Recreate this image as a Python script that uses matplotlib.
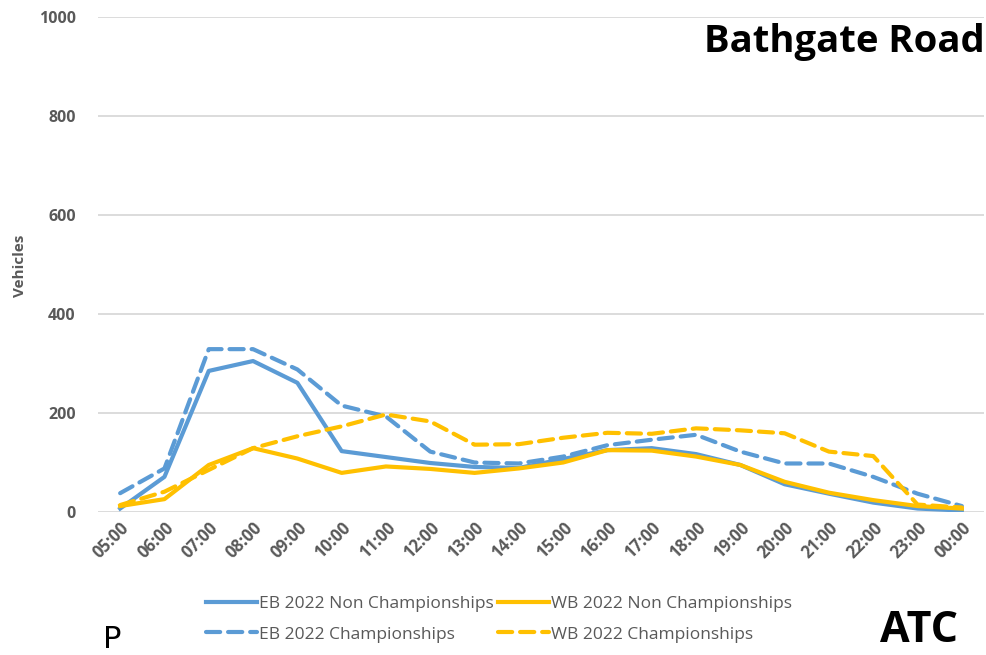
import matplotlib
matplotlib.use("Agg")
import matplotlib.pyplot as plt

hours = ["05:00", "06:00", "07:00", "08:00", "09:00", "10:00", "11:00", "12:00", "13:00", "14:00",
         "15:00", "16:00", "17:00", "18:00", "19:00", "20:00", "21:00", "22:00", "23:00", "00:00"]
eb_non = [7, 71, 285, 305, 261, 123, 111, 99, 91, 89, 107, 125, 129, 117, 95, 56, 37, 19, 7, 3]
wb_non = [12, 26, 95, 129, 108, 79, 92, 87, 79, 88, 100, 125, 124, 112, 95, 61, 39, 24, 12, 7]
eb_champ = [38, 88, 329, 329, 288, 215, 193, 122, 100, 98, 112, 135, 146, 156, 122, 98, 98, 71, 37, 12]
wb_champ = [14, 41, 85, 129, 153, 173, 197, 183, 136, 137, 150, 160, 158, 169, 165, 159, 122, 113, 15, 9]
y_ticks = [0, 200, 400, 600, 800, 1000]

BLUE = "#5B9BD5"
YELLOW = "#FFC000"
GRAY = "#595959"
FONT = "Open Sans"

fig = plt.figure(figsize=(9.86, 6.55), dpi=100)
ax = fig.add_axes([98/986, 1-512/655, 886/986, 495/655])

x = list(range(len(hours)))
lw = 3.0
dash = (3.4, 1.9)
ax.plot(x, eb_non, color=BLUE, lw=lw, solid_joinstyle="round", label="EB 2022 Non Championships")
ax.plot(x, eb_champ, color=BLUE, lw=lw, dashes=dash, dash_capstyle="round", label="EB 2022 Championships")
ax.plot(x, wb_non, color=YELLOW, lw=lw, solid_joinstyle="round", label="WB 2022 Non Championships")
ax.plot(x, wb_champ, color=YELLOW, lw=lw, dashes=dash, dash_capstyle="round", label="WB 2022 Championships")

ax.set_xlim(-0.5, len(hours) - 0.5)
ax.set_ylim(0, 1000)
ax.set_yticks(y_ticks)
ax.set_xticks(x)
ax.set_xticklabels(hours, rotation=45, ha="right", rotation_mode="anchor",
                   fontsize=12, fontweight="bold", color=GRAY, family=FONT)
for lab in ax.get_yticklabels():
    lab.set_fontsize(11.5)
    lab.set_fontweight("bold")
    lab.set_color(GRAY)
    lab.set_family(FONT)
ax.tick_params(axis="both", length=0)
ax.tick_params(axis="y", pad=16)
ax.tick_params(axis="x", pad=5)
ax.grid(axis="y", color="#D9D9D9", lw=1.3)
ax.set_axisbelow(True)
for s in ax.spines.values():
    s.set_visible(False)

fig.text(20/986, 1-266/655, "Vehicles", rotation=90, ha="center", va="center",
         fontsize=11, fontweight="bold", color=GRAY, family=FONT)

fig.text(985/986, 1-42/655, "Bathgate Road", ha="right", va="center",
         fontsize=27.5, fontweight="bold", color="black", family=FONT)
fig.text(958/986, 1-631/655, "ATC", ha="right", va="center",
         fontsize=31, fontweight="bold", color="black", family=FONT)
fig.text(112/986, 1/655, "P", ha="center", va="bottom",
         fontsize=22, color="black", family="DejaVu Sans")

leg = fig.legend(loc="center", bbox_to_anchor=(499/986, 1-619/655), ncol=2, frameon=False,
                 handlelength=2.9, handletextpad=0.1, columnspacing=0.3, labelspacing=0.85,
                 prop={"family": FONT, "size": 12.5})
for t in leg.get_texts():
    t.set_color(GRAY)

fig.savefig("out.png", dpi=100)
